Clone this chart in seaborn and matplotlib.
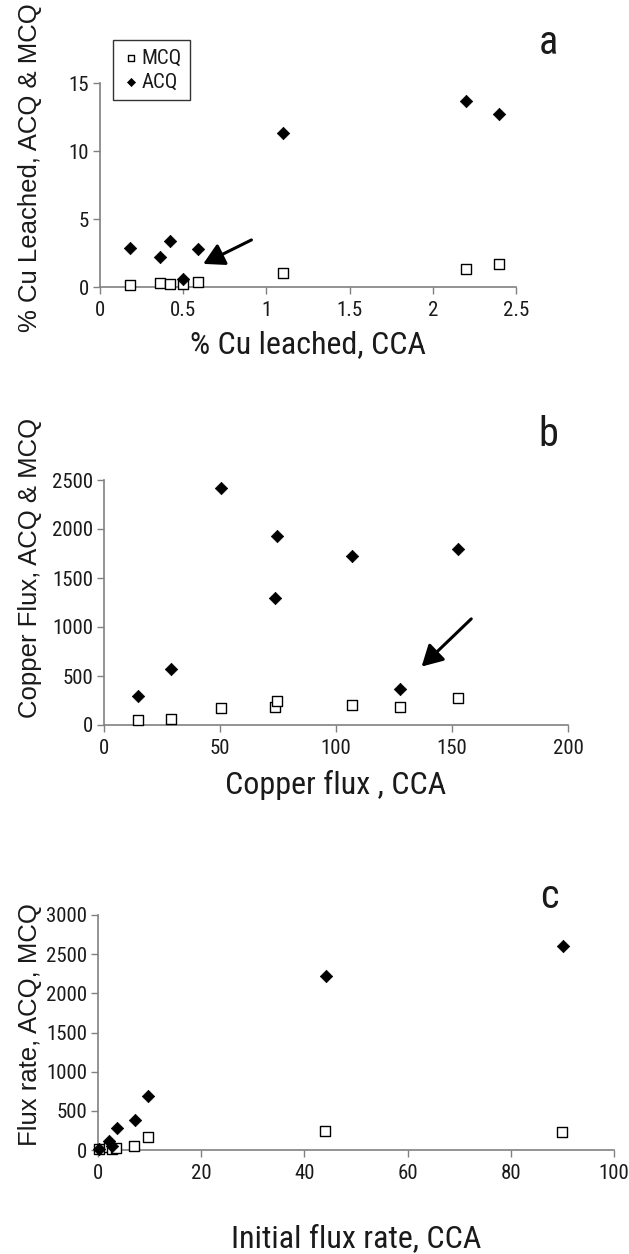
import matplotlib
matplotlib.use("Agg")
import matplotlib.pyplot as plt
import seaborn as sns
import pandas as pd
from matplotlib import font_manager

# ---------------- data ----------------
# panel a: % Cu leached
cca_a = [0.18, 0.36, 0.42, 0.50, 0.59, 1.10, 2.20, 2.40]
mcq_a = [0.17, 0.29, 0.22, 0.22, 0.37, 1.05, 1.29, 1.71]
acq_a = [2.88, 2.20, 3.41, 0.56, 2.80, 11.34, 13.66, 12.73]

# panel b: copper flux
cca_b = [14.6, 28.9, 50.6, 73.9, 74.6, 107.0, 127.8, 152.7]
mcq_b = [50, 60, 169, 182, 248, 209, 182, 272]
acq_b = [291, 576, 2417, 1298, 1924, 1722, 371, 1798]

# panel c: initial flux rate
cca_c_mcq = [0.1, 2.1, 2.8, 3.5, 7.0, 9.6, 44.0, 90.0]
mcq_c = [10, 35, 12, 20, 48, 165, 245, 225]
cca_c_acq = [0.1, 2.1, 2.7, 3.6, 7.1, 9.7, 44.1, 90.1]
acq_c = [10, 120, 45, 275, 385, 695, 2220, 2610]

series_names = ["MCQ", "ACQ"]
panel_letters = ["a", "b", "c"]
xlabels = ["% Cu leached, CCA", "Copper flux , CCA", "Initial flux rate, CCA"]
ylabels = ["% Cu Leached, ACQ & MCQ", "Copper Flux, ACQ & MCQ", "Flux rate, ACQ, MCQ"]
xticks = [[0, 0.5, 1, 1.5, 2, 2.5], [0, 50, 100, 150, 200], [0, 20, 40, 60, 80, 100]]
xticklabels = [["0", "0.5", "1", "1.5", "2", "2.5"], ["0", "50", "100", "150", "200"],
               ["0", "20", "40", "60", "80", "100"]]
yticks = [[0, 5, 10, 15], [0, 500, 1000, 1500, 2000, 2500],
          [0, 500, 1000, 1500, 2000, 2500, 3000]]

# arrow annotations (data units): (tail, head)
arrow_a = [(0.91, 3.46), (0.62, 1.70)]
arrow_b = [(158.3, 1083), (136.9, 596)]

# ---------------- style ----------------
sns.set_theme(style="white")
installed = {f.name for f in font_manager.fontManager.ttflist}
narrow_candidates = ["Arial Narrow", "Liberation Sans Narrow", "Roboto Condensed",
                     "PT Sans Narrow", "Archivo Narrow", "Pragati Narrow",
                     "IBM Plex Sans Condensed", "Fira Sans Condensed",
                     "Encode Sans Condensed", "Open Sans Condensed", "Sofia Sans Condensed",
                     "Liberation Sans"]
narrow = next((n for n in narrow_candidates if n in installed), "DejaVu Sans")
plt.rcParams["font.family"] = [narrow, "DejaVu Sans"]
reg_font = ["Liberation Sans", "DejaVu Sans"]

W, H = 629, 1254
fig = plt.figure(figsize=(W / 100, H / 100), dpi=100)

# axes boxes in pixels: (x_left, x_right, y_top, y_bottom)
boxes = [(100, 516, 83, 287), (104, 568, 480, 725), (98, 614, 915, 1150)]
axes = [fig.add_axes([x0 / W, 1 - yb / H, (x1 - x0) / W, (yb - yt) / H])
        for x0, x1, yt, yb in boxes]

# label targets in pixels
xlabel_y = [345, 785, 1239]
ylabel_x = 30
ylabel_y = [168, 568, 1025]
letter_xy = [(548, 42), (548, 435), (549, 896)]

frames = [
    (pd.DataFrame({"x": cca_a, "y": mcq_a}), pd.DataFrame({"x": cca_a, "y": acq_a})),
    (pd.DataFrame({"x": cca_b, "y": mcq_b}), pd.DataFrame({"x": cca_b, "y": acq_b})),
    (pd.DataFrame({"x": cca_c_mcq, "y": mcq_c}), pd.DataFrame({"x": cca_c_acq, "y": acq_c})),
]

gray = "#808080"
txtc = "#1a1a1a"
for i, ax in enumerate(axes):
    x0, x1, yt, yb = boxes[i]
    d_mcq, d_acq = frames[i]
    sns.scatterplot(data=d_mcq, x="x", y="y", ax=ax, marker="s", s=46,
                    color="white", edgecolor="black", linewidth=1.0,
                    label=series_names[0], clip_on=False, zorder=3)
    sns.scatterplot(data=d_acq, x="x", y="y", ax=ax, marker="D", s=40,
                    color="black", edgecolor="black", linewidth=0.5,
                    label=series_names[1], clip_on=False, zorder=4)
    ax.set_xlim(xticks[i][0], xticks[i][-1])
    ax.set_ylim(yticks[i][0], yticks[i][-1])
    ax.set_xticks(xticks[i])
    ax.set_xticklabels(xticklabels[i])
    ax.set_yticks(yticks[i])
    for s in ["top", "right"]:
        ax.spines[s].set_visible(False)
    for s in ["left", "bottom"]:
        ax.spines[s].set_color(gray)
        ax.spines[s].set_linewidth(1.2)
    ax.tick_params(axis="both", direction="out", length=5, width=1.0, color=gray,
                   labelsize=15, labelcolor=txtc, pad=3)
    ax.tick_params(axis="x", bottom=True, pad=5)
    ax.tick_params(axis="y", left=True)
    ax.set_xlabel(xlabels[i], fontsize=23, color=txtc, va="center")
    ax.xaxis.set_label_coords(0.5, -(xlabel_y[i] - yb) / (yb - yt))
    ax.set_ylabel(ylabels[i], fontsize=18.5, color=txtc, family=reg_font, va="center")
    ax.yaxis.set_label_coords(-(x0 - ylabel_x) / (x1 - x0), (yb - ylabel_y[i]) / (yb - yt))
    ax.grid(False)
    if i > 0:
        ax.get_legend().remove()
    lx, ly = letter_xy[i]
    fig.text(lx / W, 1 - ly / H, panel_letters[i], fontsize=29, ha="center",
             va="center", color=txtc)

# legend in panel a
leg = axes[0].legend(loc="upper left", bbox_to_anchor=(113 / W, 1 - 40 / H),
                     bbox_transform=fig.transFigure, frameon=True, fancybox=False,
                     fontsize=15, handletextpad=0.05, borderpad=0.4, labelspacing=0.25,
                     handlelength=0.9, markerscale=0.65, borderaxespad=0)
leg.get_frame().set_edgecolor("black")
leg.get_frame().set_linewidth(1.0)
for t in leg.get_texts():
    t.set_color(txtc)

for ax, arr in [(axes[0], arrow_a), (axes[1], arrow_b)]:
    ax.annotate("", xy=arr[1], xytext=arr[0],
                arrowprops=dict(arrowstyle="-|>,head_length=0.9,head_width=0.5",
                                lw=2.2, color="black", shrinkA=0, shrinkB=0,
                                mutation_scale=14))

fig.savefig("out.png", dpi=100)
